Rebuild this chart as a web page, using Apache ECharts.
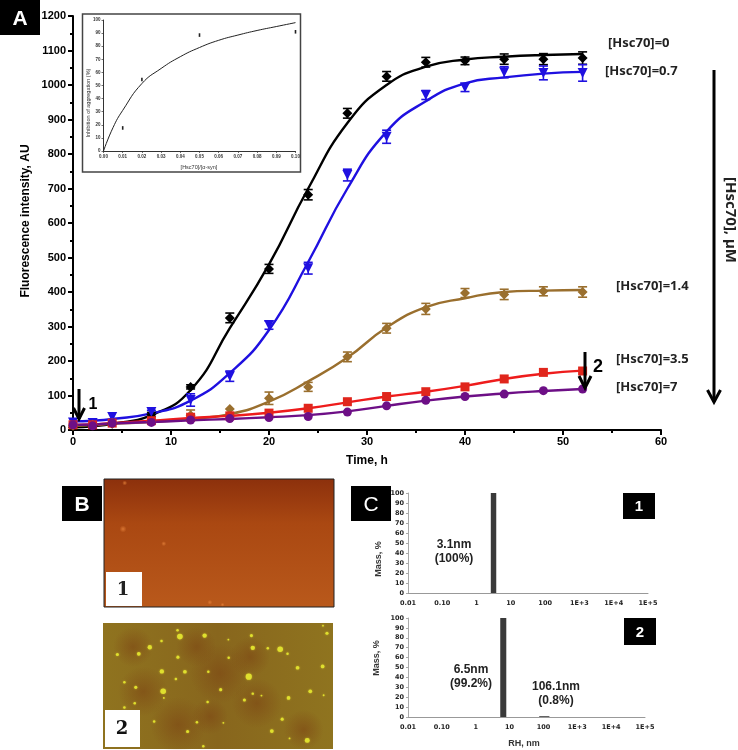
<!DOCTYPE html>
<html><head><meta charset="utf-8">
<style>html,body{margin:0;padding:0;background:#fff}#c{width:738px;height:750px}</style>
<script src="https://cdn.jsdelivr.net/npm/echarts@6/dist/echarts.min.js"></script>
</head><body><div id="c"></div>
<script>
const times=[0,2,4,8,12,16,20,24,28,32,36,40,44,48,52];
const blackPts=[8,12,18,45,125,325,467,682,918,1025,1066,1070,1075,1075,1078];
const blackErr=[0,0,0,6,6,14,13,15,14,14,14,11,15,16,18];
const blackFit=[8,11,18,43,116,295,480,700,890,1000,1053,1074,1082,1087,1090];
const bluePts=[22,20,38,52,87,156,304,469,739,850,971,993,1037,1035,1035];
const blueErr=[0,0,0,5,18,15,12,17,17,19,13,12,16,20,24];
const blueFit=[25,27,32,48,85,165,290,487,700,865,953,1005,1022,1033,1038];
const brownPts=[12,15,20,25,43,61,92,125,212,295,351,397,393,402,400];
const brownErr=[0,0,0,0,15,0,18,13,14,14,16,13,15,13,15];
const brownFit=[12,14,18,23,32,46,82,141,210,297,356,382,400,404,406];
const redPts=[15,15,20,27,37,41,49,63,82,97,111,125,148,167,171];
const redFit=[15,16,20,27,35,41,50,63,80,97,111,128,148,163,172];
const purplePts=[15,12,20,22,29,33,36,39,52,70,86,97,104,114,119];
const purpleFit=[15,16,19,23,28,32,37,43,54,70,85,97,106,113,119];
const insetX=[0.01,0.02,0.05,0.10];
const insetY=[17.6,54.6,88.5,91];
const insetFitX=[0,0.005,0.01,0.02,0.03,0.04,0.05,0.06,0.07,0.08,0.09,0.10];
const insetFitY=[0,18,31,51.5,63,72,79,84.5,88.5,92,95,98];
const logTickLabels={'0.01':'0.01','0.1':'0.10','1':'1','10':'10','100':'100','1000':'1E+3','10000':'1E+4','100000':'1E+5'};
const dls1=[[2.6,3.75,100]];
const dls2=[[5.3,8.0,100],[75,150,0.8]];
const spots1=[[225,40,5],[220,178,7],[342,222,5],[480,398,5],[518,405,4]];
const spots2=[[383,480,4],[390,499,9],[464,496,7],[604,496,5],[535,508,3],[335,512,4],[830,489,5],[818,466,3],[300,531,7],[608,533,7],[653,534,4],[690,537,9],[712,551,4],[203,553,5],[267,551,6],[384,561,5],[536,563,4],[742,593,6],[817,589,6],[336,604,7],[405,605,6],[475,605,4],[596,620,10],[378,627,4],[224,637,4],[258,652,5],[340,664,9],[512,659,5],[780,664,6],[608,671,4],[634,677,3],[715,684,6],[342,684,3],[583,690,5],[473,696,4],[255,700,4],[224,713,4],[820,676,3],[696,748,5],[313,755,4],[441,757,4],[520,759,3],[413,785,5],[665,784,6],[718,806,3],[771,812,8],[460,830,4]];
const blotches2=[[510,610,60],[385,765,56],[280,665,50],[440,530,40],[250,530,40],[620,700,50],[760,780,40],[480,740,36],[600,560,40]];

const pair=(xs,ys)=>xs.map((x,i)=>[x,ys[i]]);
const errTriples=(ys,es)=>times.map((t,i)=>[t,ys[i],es[i]]).filter(d=>d[2]>0);
function errSeries(ys,es,color){
  return {type:'custom',xAxisIndex:0,yAxisIndex:0,z:4,silent:true,data:errTriples(ys,es),
    renderItem:(p,api)=>{
      const t=api.value(0),v=api.value(1),e=api.value(2);
      const a=api.coord([t,v+e]),b=api.coord([t,v-e]),w=4.5;
      const st={stroke:color,lineWidth:1.6,fill:null};
      return {type:'group',children:[
        {type:'line',shape:{x1:a[0],y1:a[1],x2:b[0],y2:b[1]},style:st},
        {type:'line',shape:{x1:a[0]-w,y1:a[1],x2:a[0]+w,y2:a[1]},style:st},
        {type:'line',shape:{x1:b[0]-w,y1:b[1],x2:b[0]+w,y2:b[1]},style:st}]};
    }};
}
function fit(ys,color){return {type:'line',xAxisIndex:0,yAxisIndex:0,data:pair(times,ys),smooth:0.5,showSymbol:false,silent:true,z:3,lineStyle:{color,width:2.4}};}
function pts(ys,color,symbol,size,rot){return {type:'scatter',xAxisIndex:0,yAxisIndex:0,data:pair(times,ys),symbol,symbolSize:size,symbolRotate:rot||0,silent:true,z:5,itemStyle:{color,opacity:1}};}
function barSeries(data,xi){
  return {type:'custom',xAxisIndex:xi,yAxisIndex:xi,data,silent:true,z:4,
    renderItem:(p,api)=>{
      const a=api.coord([api.value(0),api.value(2)]),b=api.coord([api.value(1),0]);
      return {type:'rect',shape:{x:a[0],y:a[1],width:b[0]-a[0],height:b[1]-a[1]},style:{fill:'#3a3a3a'}};
    }};
}
const mainF={fontFamily:'Liberation Sans',fontWeight:'bold',fontSize:11,color:'#000',formatter:v=>String(v)};
function hiddenAxes(gi,x0,x1,y0,y1){
  return [{type:'value',gridIndex:gi,min:x0,max:x1,show:false},{type:'value',gridIndex:gi,min:y0,max:y1,inverse:true,show:false}];
}
const insetAxis=(over)=>Object.assign({type:'value',gridIndex:1,axisLine:{show:true,lineStyle:{color:'#333',width:1}},axisTick:{show:true,length:2,lineStyle:{color:'#333',width:.7}},splitLine:{show:false},axisLabel:{fontFamily:'Liberation Sans',fontWeight:'bold',fontSize:4.5,color:'#333',margin:3}},over);
const cX=(gi)=>({type:'log',logBase:10,gridIndex:gi,min:0.01,max:100000,splitNumber:7,
  axisLine:{show:true,lineStyle:{color:'#999',width:1}},axisTick:{show:false},splitLine:{show:false},minorTick:{show:false},minorSplitLine:{show:false},
  axisLabel:{fontFamily:'DejaVu Sans',fontWeight:'bold',fontSize:6.5,color:'#222',margin:7,showMinLabel:true,showMaxLabel:true,hideOverlap:false,
    formatter:v=>{const k=String(Math.round(v*100)/100);return logTickLabels[k]||k;}}});
const cY=(gi)=>({type:'value',gridIndex:gi,min:0,max:100,interval:10,
  axisLine:{show:true,lineStyle:{color:'#aaa',width:1}},axisTick:{show:true,length:2,lineStyle:{color:'#aaa'}},splitLine:{show:false},
  axisLabel:{fontFamily:'DejaVu Sans',fontWeight:'bold',fontSize:6.5,color:'#222',margin:4}});

function box(x,y,w,h,fill,z){return {type:'rect',z:z||100,shape:{x,y,width:w,height:h},style:{fill}};}
function txt(x,y,text,font,color,align,rot,z){return {type:'text',z:z||110,x,y,rotation:rot||0,style:{text,font,fill:color||'#000',align:align||'center',verticalAlign:'middle'}};}
function arrow(x,y0,y1,hw,hh,lw){
  const st={stroke:'#000',lineWidth:lw,fill:null};
  return [{type:'line',z:120,shape:{x1:x,y1:y0,x2:x,y2:y1},style:st},
          {type:'polyline',z:120,shape:{points:[[x-hw,y1-hh],[x,y1],[x+hw,y1-hh]]},style:st}];
}
const lab='bold 13px "Noto Sans"';
const grad1={type:'linear',x:0,y:0,x2:0,y2:1,colorStops:[{offset:0,color:'#8c300c'},{offset:.35,color:'#aa4812'},{offset:1,color:'#b9591b'}]};
const grad2={type:'linear',x:0,y:0,x2:1,y2:0,colorStops:[{offset:0,color:'#8f731f'},{offset:.5,color:'#88661d'},{offset:1,color:'#8f741f'}]};
const graphic=[
  box(0,0,40,35,'#000'),txt(20,19,'A','bold 21px "Liberation Sans"','#fff'),
  box(62,486,40,35,'#000'),txt(82,505,'B','bold 21px "Liberation Sans"','#fff'),
  box(351,486,40,35,'#000'),txt(371,505,'C','21px "Liberation Sans"','#fff'),
  box(623,493,32,26,'#000'),txt(639,507,'1','bold 15px "Liberation Sans"','#fff'),
  box(624,618,32,27,'#000'),txt(640,633,'2','bold 15px "Liberation Sans"','#fff'),
  {type:'rect',z:1,shape:{x:82.5,y:14,width:218,height:158},style:{fill:'none',stroke:'#444',lineWidth:1.5}},
  {type:'rect',z:1,shape:{x:104,y:479,width:230,height:128},style:{fill:grad1,stroke:'#222',lineWidth:1}},
  {type:'rect',z:1,shape:{x:103,y:623,width:230,height:126},style:{fill:grad2}},
  box(106,572,36,34,'#fff'),txt(123,590,'1','bold 18px "DejaVu Serif"','#222'),
  box(105,710,35,37,'#fff'),txt(122,729,'2','bold 18px "DejaVu Serif"','#111'),
  txt(26,221,'Fluorescence intensity, AU','bold 12px "Liberation Sans"','#000','center',Math.PI/2),
  txt(367,461,'Time, h','bold 12px "Liberation Sans"'),
  txt(88,103,'Inhibition of aggregation (%)','5.5px "Liberation Sans"','#333','center',Math.PI/2),
  txt(199,167,'[Hsc70]/[\u03b1-syn]','5.5px "Liberation Sans"','#333'),
  txt(608,43,'[Hsc70]=0',lab,'#222','left'),
  txt(605,71,'[Hsc70]=0.7',lab,'#222','left'),
  txt(616,286,'[Hsc70]=1.4',lab,'#222','left'),
  txt(616,359,'[Hsc70]=3.5',lab,'#222','left'),
  txt(616,387,'[Hsc70]=7',lab,'#222','left'),
  txt(730,220,'[Hsc70], \u00b5M','bold 15px "Noto Sans"','#222','center',-Math.PI/2),
  ...arrow(714,70,402,6.5,12,3),
  ...arrow(79,389,419,5.5,11,3),
  ...arrow(585,352,388,6,12,3),
  txt(93,405,'1','bold 16px "Liberation Sans"'),
  txt(598,367,'2','bold 18px "Liberation Sans"'),
  txt(379,559,'Mass, %','bold 9px "Liberation Sans"','#333','center',Math.PI/2),
  txt(377,658,'Mass, %','bold 9px "Liberation Sans"','#333','center',Math.PI/2),
  txt(524,744,'RH, nm','bold 9px "Liberation Sans"','#333'),
  txt(454,545,'3.1nm','bold 12px "Liberation Sans"','#222'),
  txt(454,559,'(100%)','bold 12px "Liberation Sans"','#222'),
  txt(471,670,'6.5nm','bold 12px "Liberation Sans"','#222'),
  txt(471,684,'(99.2%)','bold 12px "Liberation Sans"','#222'),
  txt(556,687,'106.1nm','bold 12px "Liberation Sans"','#222'),
  txt(556,701,'(0.8%)','bold 12px "Liberation Sans"','#222')
];
const soft=(c)=>({type:'radial',x:.5,y:.5,r:.5,colorStops:[{offset:0,color:c},{offset:1,color:c.replace(/[\d.]+\)$/,'0)')}]});
const option={
  animation:false,backgroundColor:'#fff',
  grid:[
    {left:73,top:16,width:588,height:414},
    {left:103.5,top:20,width:192,height:131},
    {left:408,top:493,width:240,height:100},
    {left:408,top:618,width:237,height:99},
    {left:104,top:479,width:230,height:128},
    {left:103,top:623,width:230,height:126}
  ],
  xAxis:[
    {type:'value',gridIndex:0,min:0,max:60,interval:10,axisLine:{lineStyle:{color:'#000',width:2}},axisTick:{length:5,lineStyle:{color:'#000',width:2}},minorTick:{show:true,splitNumber:2,length:3,lineStyle:{color:'#000',width:2}},splitLine:{show:false},axisLabel:Object.assign({margin:6},mainF)},
    insetAxis({min:0,max:0.1,interval:0.01,axisLabel:{fontFamily:'Liberation Sans',fontWeight:'bold',fontSize:4.5,color:'#333',margin:3,formatter:v=>v.toFixed(2)}}),
    cX(2),cX(3),
    ...[hiddenAxes(4,163,852,28,412)[0],hiddenAxes(5,160,848,458,838)[0]]
  ],
  yAxis:[
    {type:'value',gridIndex:0,min:0,max:1200,interval:100,axisLine:{lineStyle:{color:'#000',width:2}},axisTick:{length:5,lineStyle:{color:'#000',width:2}},minorTick:{show:true,splitNumber:2,length:3,lineStyle:{color:'#000',width:2}},splitLine:{show:false},axisLabel:Object.assign({margin:7},mainF)},
    insetAxis({min:0,max:100,interval:10}),
    cY(2),cY(3),
    ...[hiddenAxes(4,163,852,28,412)[1],hiddenAxes(5,160,848,458,838)[1]]
  ],
  series:[
    fit(blackFit,'#000'),fit(blueFit,'#1f10e0'),fit(brownFit,'#9a6f2e'),fit(redFit,'#ee1c1c'),fit(purpleFit,'#6d0f86'),
    errSeries(blackPts,blackErr,'#000'),errSeries(bluePts,blueErr,'#1f10e0'),errSeries(brownPts,brownErr,'#9a6f2e'),
    pts(blackPts,'#000','diamond',10),pts(bluePts,'#1f10e0','triangle',10,180),pts(brownPts,'#9a6f2e','diamond',10),pts(redPts,'#e0261c','rect',9),pts(purplePts,'#6d0f86','circle',9),
    {type:'line',xAxisIndex:1,yAxisIndex:1,data:pair(insetFitX,insetFitY),smooth:0.5,showSymbol:false,silent:true,z:3,lineStyle:{color:'#222',width:1}},
    {type:'scatter',xAxisIndex:1,yAxisIndex:1,data:pair(insetX,insetY),symbol:'rect',symbolSize:[1.6,3.6],silent:true,z:4,itemStyle:{color:'#222',opacity:1}},
    barSeries(dls1,2),barSeries(dls2,3),
    {type:'scatter',xAxisIndex:4,yAxisIndex:4,data:spots1,symbolSize:d=>d[2],silent:true,z:3,itemStyle:{opacity:1,color:soft('rgba(225,125,55,.85)')}},
    {type:'scatter',xAxisIndex:5,yAxisIndex:5,data:blotches2,symbolSize:d=>d[2],silent:true,z:2,itemStyle:{opacity:1,color:soft('rgba(125,70,20,.6)')}},
    {type:'scatter',xAxisIndex:5,yAxisIndex:5,data:spots2,symbolSize:d=>d[2]*.62,silent:true,z:3,itemStyle:{opacity:1,color:'#dfe02e',shadowColor:'#c9b820',shadowBlur:2}}
  ],
  graphic:{elements:graphic}
};
echarts.init(document.getElementById('c'),null,{renderer:'canvas'}).setOption(option);
</script></body></html>
